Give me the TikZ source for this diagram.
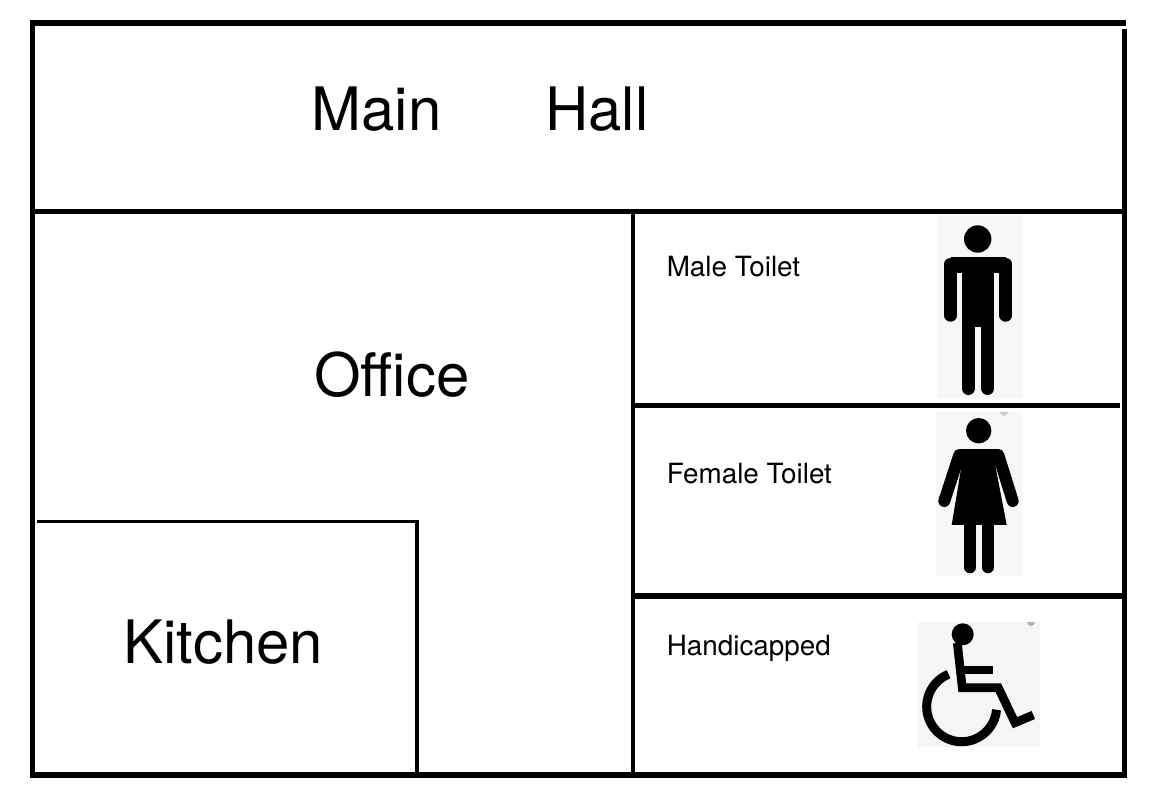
\documentclass[tikz,border=0pt]{standalone}
\usepackage{fontspec}
\setmainfont{TeX Gyre Heros}
\tikzset{
  thickwall/.style={line width=4.2pt},
  thinwall/.style={line width=3.2pt},
  bigroom/.style={font=\fontsize{42.6}{48}\selectfont, anchor=base west, inner sep=0pt},
  smallroom/.style={font=\fontsize{19.8}{23}\selectfont, anchor=base west, inner sep=0pt},
  signback/.style={fill=black!3, draw=none},
  limb/.style={line width=8.5pt, line cap=round, line join=round}
}
\begin{document}
\begin{tikzpicture}[x=0.025cm, y=-0.025cm]
    \useasboundingbox (0,0) rectangle (1167,800);

    % outer walls
    \draw [thickwall] (30,23.3) -- (1126,23.3);
    \draw [line width=3.6pt] (32.5,20) -- (32.5,778);
    \draw [line width=3.6pt] (1124.5,29) -- (1124.5,778);
    \draw [thickwall] (30,775) -- (1127,775);

    % inner walls
    \draw [thickwall] (32.5,211.5) -- (1124.5,211.5);
    \draw [thinwall] (633,211.5) -- (633,775);
    \draw [line width=3pt] (633,405.5) -- (1120,405.5);
    \draw [thickwall] (633,596) -- (1124.5,596);
    \draw [line width=2.4pt] (37,521.5) -- (418.5,521.5);
    \draw [line width=2.9pt] (417.2,520) -- (417.2,775);

    % rooms
    \node [bigroom] (mainhall) at (311.3,131) {Main\hspace{2.6cm}Hall};
    \node [bigroom] (office) at (314,396.5) {Office};
    \node [bigroom] (kitchen) at (123,663.5) {Kitchen};
    \node [smallroom] (maletoilet) at (666.5,276.7) {Male Toilet};
    \node [smallroom] (femaletoilet) at (666.5,484) {Female Toilet};
    \node [smallroom] (handicapped) at (666.5,655) {Handicapped};

    % male sign
    \fill [signback] (937,215) rectangle (1022,398);
    \fill (977.7,239) circle (13.7);
    \draw [limb, line width=9pt] (950.6,315.4) -- (950.6,264) -- (1005.7,264) -- (1005.7,315.4);
    \fill (961.7,260) rectangle (994.3,326.7);
    \fill (950.6,257.3) rectangle (1005.7,273);
    \draw [limb, line width=9.4pt] (968.3,320) -- (968.3,388.4);
    \draw [limb, line width=9.4pt] (987.7,320) -- (987.7,388.4);

    % female sign
    \fill [signback] (936,412) rectangle (1022,576);
    \fill [black!20] (1000,412) arc [start angle=180, end angle=0, radius=4];
    \fill (978.7,430.7) circle (12.7);
    \draw [limb] (944.3,501) -- (959.3,455) -- (998.3,455) -- (1012.7,501);
    \fill (963.3,455) -- (993.3,455) -- (1006.7,525) -- (951.7,525) -- cycle;
    \draw [limb] (970,520) -- (970,567.3);
    \draw [limb] (987.8,520) -- (987.8,567.3);

    % handicapped sign
    \fill [signback, fill=black!4] (918,622) rectangle (1040,747);
    \fill [black!30] (1027,622) arc [start angle=180, end angle=0, radius=4];
    \fill (962.7,634.3) circle (11);
    \draw [line width=6.2pt, line join=miter] (957.3,643) -- (962.3,687.7) -- (998.3,687.7)
      -- (1015,722.7) -- (1033.3,715);
    \draw [line width=6.2pt] (960,670) -- (993.3,670);
    \draw [line width=6.4pt] ([shift={(-112:35)}]961.7,706.7)
      arc [start angle=-112, end angle=-355, radius=35];
\end{tikzpicture}
\end{document}
